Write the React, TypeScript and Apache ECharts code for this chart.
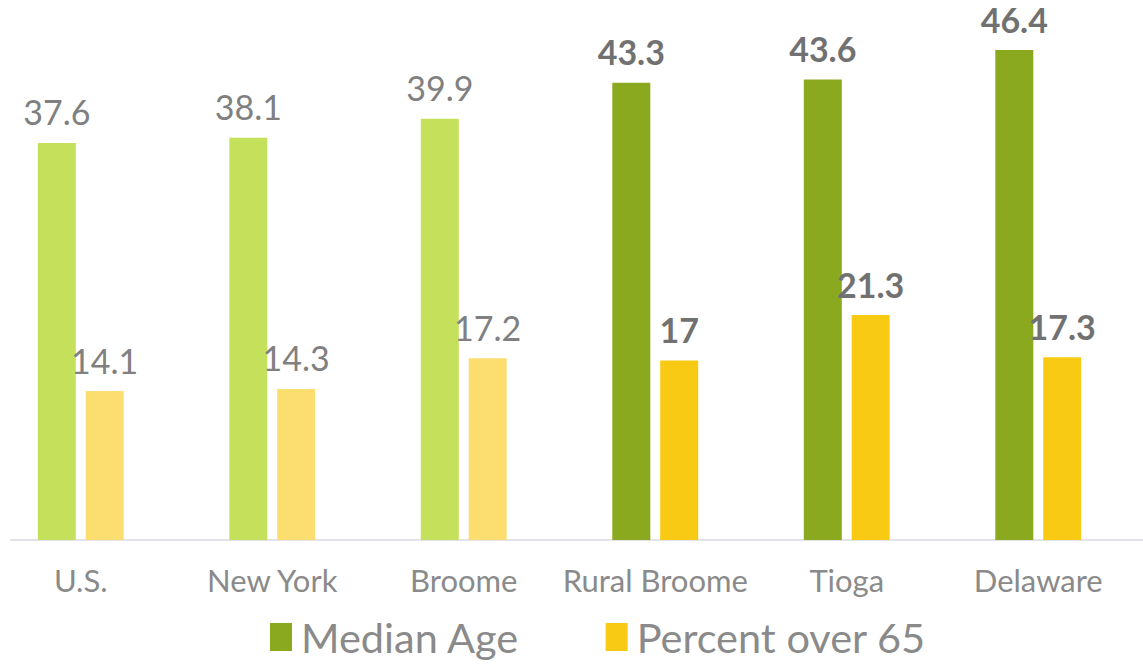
import React, { useEffect, useRef } from "react";
import * as echarts from "echarts";

const categories = ["U.S.", "New York", "Broome", "Rural Broome", "Tioga", "Delaware"];
const medianAge = [37.6, 38.1, 39.9, 43.3, 43.6, 46.4];
const percentOver65 = [14.1, 14.3, 17.2, 17, 21.3, 17.3];
const highlighted = [false, false, false, true, true, true];

const GREEN_DARK = "#8BA91E";
const GREEN_LIGHT = "#C5E15C";
const GOLD_DARK = "#F9CA13";
const GOLD_LIGHT = "#FCDE70";
const FONT = "Lato, 'Noto Sans', sans-serif";
const SHIFT = 15;

function buildData(values: number[], dark: string, light: string) {
  return values.map((v, i) => ({
    value: v,
    itemStyle: { color: highlighted[i] ? dark : light },
    label: {
      fontWeight: highlighted[i] ? "bold" : "normal",
      color: highlighted[i] ? "#717171" : "#808080",
    },
  }));
}

export default function App() {
  const ref = useRef<HTMLDivElement>(null);
  useEffect(() => {
    if (!ref.current) return;
    const chart = echarts.init(ref.current, null, { renderer: "svg" });
    const labelCommon = {
      show: true,
      position: "top",
      distance: 14,
      fontSize: 34,
      fontFamily: FONT,
    };
    chart.setOption({
      animation: false,
      backgroundColor: "#ffffff",
      grid: { left: 0, right: 9, top: 12, bottom: 126, containLabel: false },
      legend: {
        top: 611,
        left: 265 + SHIFT,
        icon: "rect",
        itemWidth: 22,
        itemHeight: 28,
        itemGap: 86,
        textStyle: {
          fontSize: 41.5,
          fontFamily: FONT,
          color: "#8a8a8a",
          padding: [0, 0, 0, 4],
        },
        data: ["Median Age", "Percent over 65"],
      },
      xAxis: {
        type: "category",
        data: categories,
        axisLine: { show: false },
        axisTick: { show: false },
        axisLabel: {
          fontSize: 31,
          fontFamily: FONT,
          color: "#8a8a8a",
          margin: 24,
          interval: 0,
        },
      },
      yAxis: {
        type: "value",
        min: 0,
        max: 50,
        show: false,
        splitLine: { show: false },
      },
      graphic: [
        {
          type: "line",
          shape: { x1: 10 + SHIFT, y1: 540, x2: 1143 + SHIFT, y2: 540 },
          style: { stroke: "#d9d9e0", lineWidth: 1.5 },
          z: 0,
        },
      ],
      series: [
        {
          name: "Median Age",
          type: "bar",
          barWidth: 38,
          barGap: "26%",
          itemStyle: { color: GREEN_DARK },
          label: labelCommon,
          data: buildData(medianAge, GREEN_DARK, GREEN_LIGHT),
          z: 2,
        },
        {
          name: "Percent over 65",
          type: "bar",
          barWidth: 38,
          itemStyle: { color: GOLD_DARK },
          label: labelCommon,
          data: buildData(percentOver65, GOLD_DARK, GOLD_LIGHT),
          z: 2,
        },
      ],
    });
    return () => chart.dispose();
  }, []);
  return (
    <div style={{ position: "fixed", left: 0, top: 0, width: 1143, height: 666, overflow: "hidden" }}>
      <div
        ref={ref}
        style={{ position: "absolute", left: -SHIFT, top: 0, width: 1143 + SHIFT, height: 666 }}
      />
    </div>
  );
}
